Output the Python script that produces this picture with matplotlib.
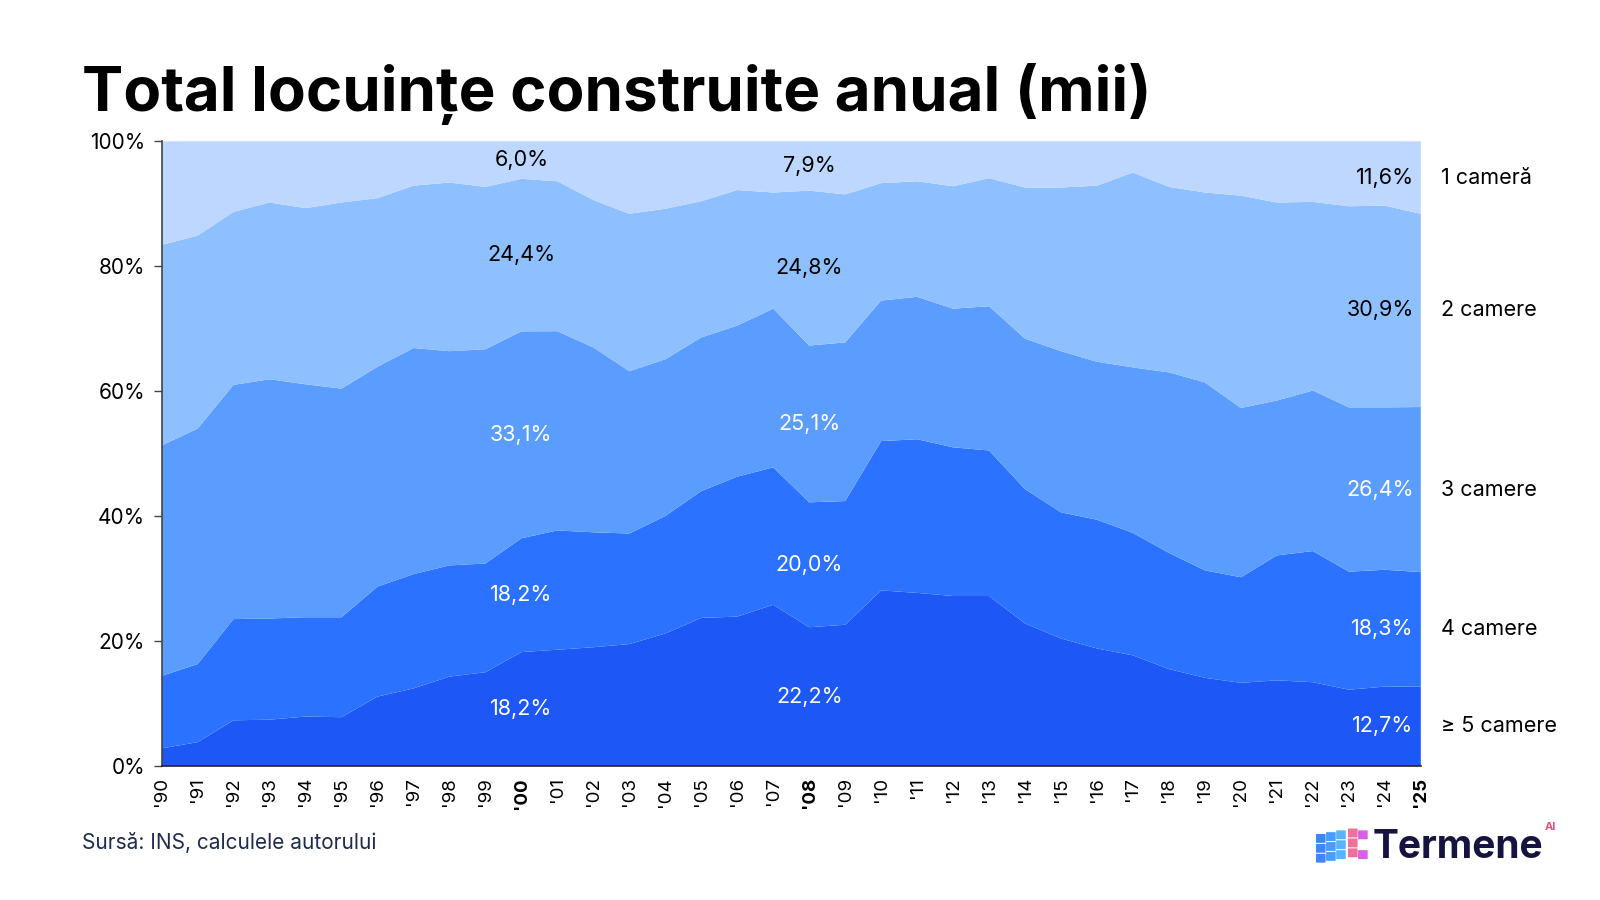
import numpy as np
import matplotlib
matplotlib.use("Agg")
import matplotlib.pyplot as plt
from matplotlib.patches import FancyBboxPatch

plt.rcParams["font.family"] = ["Inter", "DejaVu Sans"]

years = list(range(1990, 2026))
tick_labels = ["'" + str(y)[2:] for y in years]
bold_years = [2000, 2008, 2025]
label_years = [2000, 2008, 2025]

categories = ["≥ 5 camere", "4 camere", "3 camere", "2 camere", "1 cameră"]

# share of dwellings by number of rooms (%)
rooms_5plus = [2.8, 3.8, 7.3, 7.4, 7.9, 7.8, 11.1, 12.4, 14.3, 15.0,
               18.2, 18.6, 19.0, 19.5, 21.2, 23.7, 23.9, 25.8, 22.2, 22.6,
               28.1, 27.7, 27.2, 27.2, 22.8, 20.4, 18.8, 17.7, 15.5, 14.1,
               13.3, 13.7, 13.4, 12.2, 12.7, 12.7]
rooms_4 = [11.6, 12.5, 16.2, 16.2, 15.9, 16.0, 17.6, 18.3, 17.8, 17.4,
           18.2, 19.1, 18.4, 17.7, 18.8, 20.3, 22.4, 22.0, 20.0, 19.8,
           23.9, 24.6, 23.8, 23.3, 21.5, 20.2, 20.6, 19.6, 18.6, 17.2,
           16.9, 20.0, 21.0, 18.9, 18.7, 18.3]
rooms_3 = [36.9, 37.7, 37.5, 38.3, 37.3, 36.6, 35.2, 36.2, 34.3, 34.3,
           33.1, 31.9, 29.6, 26.0, 25.1, 24.6, 24.2, 25.4, 25.1, 25.4,
           22.5, 22.8, 22.2, 23.1, 24.1, 25.8, 25.3, 26.5, 28.9, 30.1,
           27.1, 24.8, 25.7, 26.3, 26.0, 26.4]
rooms_2 = [32.1, 30.9, 27.7, 28.3, 28.2, 29.8, 27.0, 26.0, 27.0, 26.0,
           24.4, 24.0, 23.6, 25.2, 24.1, 21.8, 21.7, 18.6, 24.8, 23.7,
           18.8, 18.5, 19.6, 20.5, 24.2, 26.2, 28.2, 31.2, 29.7, 30.4,
           34.0, 31.7, 30.2, 32.2, 32.3, 30.9]
rooms_1 = [16.6, 15.1, 11.3, 9.8, 10.7, 9.8, 9.1, 7.1, 6.6, 7.3,
           6.0, 6.4, 9.4, 11.6, 10.8, 9.6, 7.8, 8.2, 7.9, 8.5,
           6.7, 6.4, 7.2, 5.9, 7.4, 7.4, 7.1, 5.0, 7.3, 8.2,
           8.7, 9.8, 9.7, 10.4, 10.3, 11.6]

colors = ["#1D57F5", "#2A72FF", "#5A9DFF", "#8EBFFF", "#BDD7FF"]
text_colors = ["white", "white", "white", "black", "black"]

raw = np.array([rooms_5plus, rooms_4, rooms_3, rooms_2, rooms_1], dtype=float)
shares = raw / raw.sum(axis=0) * 100
cum = np.cumsum(shares, axis=0)

fig = plt.figure(figsize=(16, 9), dpi=100)
ax = fig.add_axes([0.101, 0.149, 0.787, 0.694])
ax.stackplot(years, shares, colors=colors, linewidth=0)

ax.set_xlim(1990, 2025)
ax.set_ylim(0, 100)
ax.set_yticks(range(0, 101, 20))
ax.set_yticklabels([f"{v}%" for v in range(0, 101, 20)], fontsize=15)
ax.set_xticks(years)
ax.set_xticklabels(tick_labels, rotation=90, fontsize=13.5)
for lab, y in zip(ax.get_xticklabels(), years):
    if y in bold_years:
        lab.set_fontweight("bold")
ax.tick_params(axis="x", length=0, pad=8)
ax.tick_params(axis="y", length=6, width=1, color="#444444", pad=6)
for s in ["top", "right"]:
    ax.spines[s].set_visible(False)
ax.spines["left"].set_color("#444444")
ax.spines["bottom"].set_color("#222222")
ax.spines["left"].set_linewidth(1.2)
ax.spines["bottom"].set_linewidth(1.2)

# data labels at selected years (segment midpoints)
for yr in label_years:
    i = years.index(yr)
    for k in range(len(categories)):
        mid = cum[k, i] - shares[k, i] / 2
        txt = f"{shares[k, i]:.1f}".replace(".", ",") + "%"
        if yr == years[-1]:
            ax.text(yr - 0.2, mid, txt, ha="right", va="center",
                    fontsize=15.5, color=text_colors[k])
        else:
            ax.text(yr, mid, txt, ha="center", va="center",
                    fontsize=15.5, color=text_colors[k])

# category names on the right
for k, name in enumerate(categories):
    mid = cum[k, -1] - shares[k, -1] / 2
    ax.text(years[-1] + 0.57, mid, name, ha="left", va="center",
            fontsize=15.5, color="black", clip_on=False)

fig.text(0.051, 0.877, "Total locuințe construite anual (mii)",
         fontsize=44.5, fontweight="bold", color="black", ha="left", va="baseline")
fig.text(0.051, 0.064, "Sursă: INS, calculele autorului",
         fontsize=15, color="#1E2B4F", ha="left", va="center")

# logo
cube_left = ["#3E86FF", "#4A9CFF", "#58B4FF"]
cube_right = ["#F0709A", "#D95FE6"]
sq = 0.005
for c in range(3):
    for r in range(3):
        fig.add_artist(FancyBboxPatch((0.823 + c * 0.0063, 0.042 + r * 0.011 + c * 0.002),
                                      sq, sq * 16 / 9, boxstyle="round,pad=0.0005",
                                      transform=fig.transFigure, color=cube_left[c], lw=0))
for c in range(2):
    for r in range(3):
        if c == 1 and r == 1:
            continue
        fig.add_artist(FancyBboxPatch((0.843 + c * 0.0063, 0.048 + r * 0.011 - c * 0.002),
                                      sq, sq * 16 / 9, boxstyle="round,pad=0.0005",
                                      transform=fig.transFigure, color=cube_right[c], lw=0))
fig.text(0.858, 0.058, "Termene", fontsize=28, fontweight="bold",
         color="#14143F", ha="left", va="center")
fig.text(0.9655, 0.081, "AI", fontsize=8, fontweight="bold",
         color="#E2547C", ha="left", va="center")

fig.savefig("out.png", dpi=100, facecolor="white")
